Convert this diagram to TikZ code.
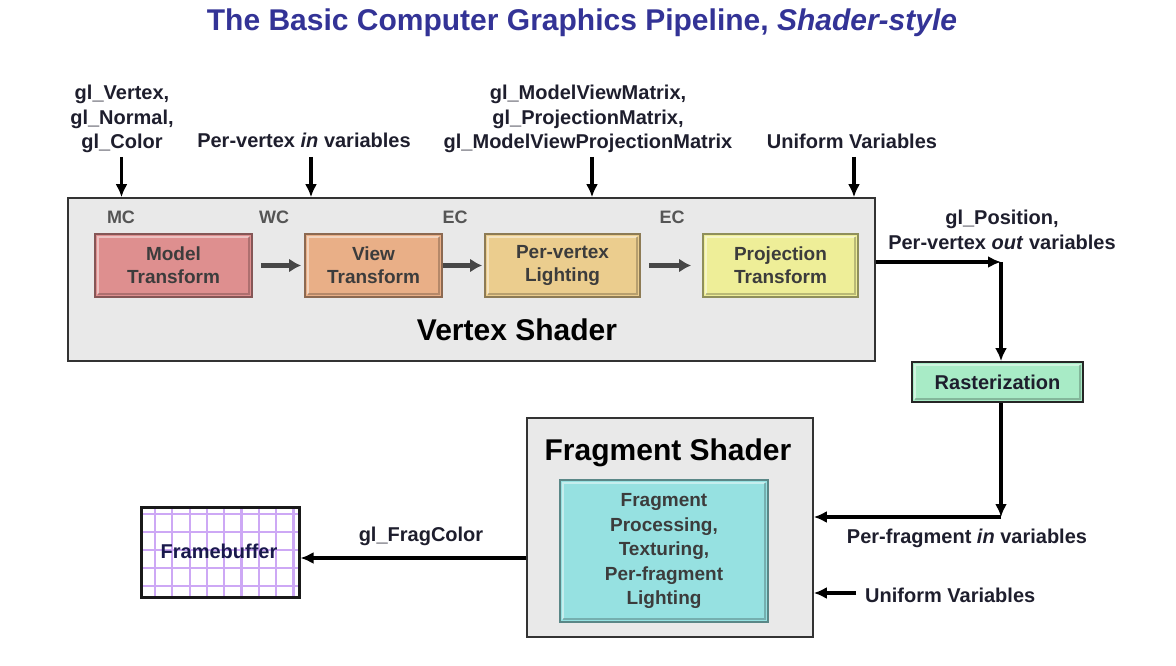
\documentclass[tikz,border=0pt]{standalone}
\usepackage{fontspec}
\setmainfont{Liberation Sans}
\usetikzlibrary{arrows.meta}
\definecolor{titleblue}{RGB}{51,51,150}
\definecolor{labcol}{RGB}{30,30,45}
\definecolor{boxtext}{RGB}{60,60,60}
\definecolor{csys}{RGB}{85,85,85}
\definecolor{shadergray}{RGB}{233,233,233}
\definecolor{modelfill}{RGB}{222,143,143}
\definecolor{viewfill}{RGB}{233,175,135}
\definecolor{lightfill}{RGB}{235,205,142}
\definecolor{projfill}{RGB}{238,238,152}
\definecolor{rastfill}{RGB}{168,235,198}
\definecolor{fragfill}{RGB}{150,225,225}
\definecolor{gridcol}{RGB}{205,168,245}
\tikzset{
  lbl/.style={font=\fontsize{20}{24.5}\selectfont\bfseries, text=labcol, inner sep=0pt},
  csl/.style={font=\fontsize{18}{20}\selectfont\bfseries, text=csys, inner sep=0pt, anchor=base},
  shader/.style={draw=black!80, fill=shadergray, line width=1.6pt},
  bevel/.style={path picture={
      \draw[white, opacity=0.45, line width=2.2pt]
        ([shift={(3pt,3pt)}]path picture bounding box.south west) --
        ([shift={(3pt,-3pt)}]path picture bounding box.north west) --
        ([shift={(-3pt,-3pt)}]path picture bounding box.north east);
      \draw[black, opacity=0.22, line width=2.2pt]
        ([shift={(-3pt,-3pt)}]path picture bounding box.north east) --
        ([shift={(-3pt,3pt)}]path picture bounding box.south east) --
        ([shift={(3pt,3pt)}]path picture bounding box.south west);
  }},
  stage/.style={draw=#1!60!black, fill=#1, line width=1.8pt, minimum width=155pt, minimum height=63pt, bevel,
    align=center, text=boxtext, font=\fontsize{19}{23}\selectfont\bfseries, inner sep=0pt},
  arr/.style={-{Latex[length=13pt,width=12pt]}, line width=3.4pt, black},
  garr/.style={-{Latex[length=12pt,width=14pt]}, line width=4.2pt, black!72},
}
\begin{document}
\begin{tikzpicture}[x=1pt,y=-1pt]
\useasboundingbox (0,0) rectangle (1176,666);
% title
\node[anchor=base, font=\fontsize{30}{36}\selectfont\bfseries, text=titleblue, inner sep=0pt] (title) at (582,31)
  {The Basic Computer Graphics Pipeline, \textit{Shader-style}};
% vertex shader
\node[shader, minimum width=807pt, minimum height=163pt, inner sep=0pt] (vs) at (471.5,279.5) {};
\node[anchor=base, font=\fontsize{30}{36}\selectfont\bfseries, inner sep=0pt] (vslbl) at (517,340) {Vertex Shader};
\node[csl] (mc) at (121,223) {MC};
\node[csl] (wc) at (274,223) {WC};
\node[csl] (ec1) at (455,223) {EC};
\node[csl] (ec2) at (672,223) {EC};
\node[stage=modelfill, minimum width=157pt] (model) at (173.5,265.5) {Model\\Transform};
\node[stage=viewfill, minimum width=137pt] (view) at (373.5,265.5) {View\\Transform};
\node[stage=lightfill, minimum width=155pt] (light) at (562.5,265.5) {Per-vertex\\Lighting};
\node[stage=projfill, minimum width=155pt] (proj) at (780.5,265.5) {Projection\\Transform};
\draw[garr, shorten <=8pt, shorten >=3pt] (model) -- (view);
\draw[garr, shorten >=2pt] (view) -- (light);
\draw[garr, shorten <=8pt, shorten >=11pt] (light) -- (proj);
% top inputs
\node[lbl, anchor=base] (in1l) at (122,149)
  {\begin{tabular}[b]{@{}c@{}}gl\_Vertex,\\gl\_Normal,\\gl\_Color\end{tabular}};
\node[lbl, anchor=base] (in2l) at (304,148) {Per-vertex \textit{in} variables};
\node[lbl, anchor=base] (in3l) at (588,149)
  {\begin{tabular}[b]{@{}c@{}}gl\_ModelViewMatrix,\\gl\_ProjectionMatrix,\\gl\_ModelViewProjectionMatrix\end{tabular}};
\node[lbl, anchor=base] (in4l) at (852,149) {Uniform Variables};
\coordinate (in1) at (121.5,157);
\coordinate (in2) at (311,157);
\coordinate (in3) at (592,157);
\coordinate (in4) at (854,157);
\draw[arr] (in1) -- (in1 |- vs.north);
\draw[arr] (in2) -- (in2 |- vs.north);
\draw[arr] (in3) -- (in3 |- vs.north);
\draw[arr] (in4) -- (in4 |- vs.north);
% output of vertex shader
\node[lbl, anchor=base] (outl) at (1002,249)
  {\begin{tabular}[b]{@{}c@{}}gl\_Position,\\Per-vertex \textit{out} variables\end{tabular}};
\coordinate (c1) at (1001,262);
\draw[arr] (vs.east |- c1) -- (c1);
% rasterization
\node[draw=black!85, fill=rastfill, line width=1.8pt, minimum width=171pt, minimum height=40pt, inner sep=0pt, bevel,
  font=\fontsize{20}{24}\selectfont\bfseries, text=labcol] (rast) at (997.5,382) {Rasterization};
\draw[arr] (c1) -- (c1 |- rast.north);
% fragment shader
\node[shader, minimum width=286pt, minimum height=219pt, inner sep=0pt] (fs) at (670,527.5) {};
\node[anchor=base, font=\fontsize{30}{36}\selectfont\bfseries, inner sep=0pt] (fslbl) at (668,460) {Fragment Shader};
\node[stage=fragfill, minimum width=208pt, minimum height=142pt, font=\fontsize{19}{24.5}\selectfont\bfseries] (frag) at (664,551)
  {Fragment\\Processing,\\Texturing,\\Per-fragment\\Lighting};
\coordinate (c2) at (1001,517);
\draw[arr] (c2 |- rast.south) -- (c2);
\draw[arr] (c2) -- (c2 -| fs.east);
\node[lbl, anchor=base] (pfl) at (967,543) {Per-fragment \textit{in} variables};
\coordinate (u2) at (856,593);
\node[lbl, anchor=base west] (u2l) at (865,602) {Uniform Variables};
\draw[arr] (u2) -- (u2 -| fs.east);
% framebuffer
\fill[white] (141,507) rectangle (299,597);
\begin{scope}
  \clip (141,507) rectangle (299,597);
  \foreach \i in {0,...,8} \draw[gridcol, line width=2.2pt] (155+17.3*\i,507) -- (155+17.3*\i,597);
  \foreach \j in {0,...,4} \draw[gridcol, line width=2.2pt] (141,514+18*\j) -- (299,514+18*\j);
\end{scope}
\node[draw=black!90, line width=3pt, minimum width=158pt, minimum height=90pt, inner sep=0pt] (fb) at (220,552) {};
\node[anchor=base, inner sep=0pt, font=\fontsize{20}{24}\selectfont\bfseries, text=labcol!85!blue] (fbl) at (219,558) {Framebuffer};
\coordinate (fa) at (400,558);
\draw[arr] (fs.west |- fa) -- (fb.east |- fa);
\node[lbl, anchor=base] (fcl) at (421,541) {gl\_FragColor};
\end{tikzpicture}
\end{document}
